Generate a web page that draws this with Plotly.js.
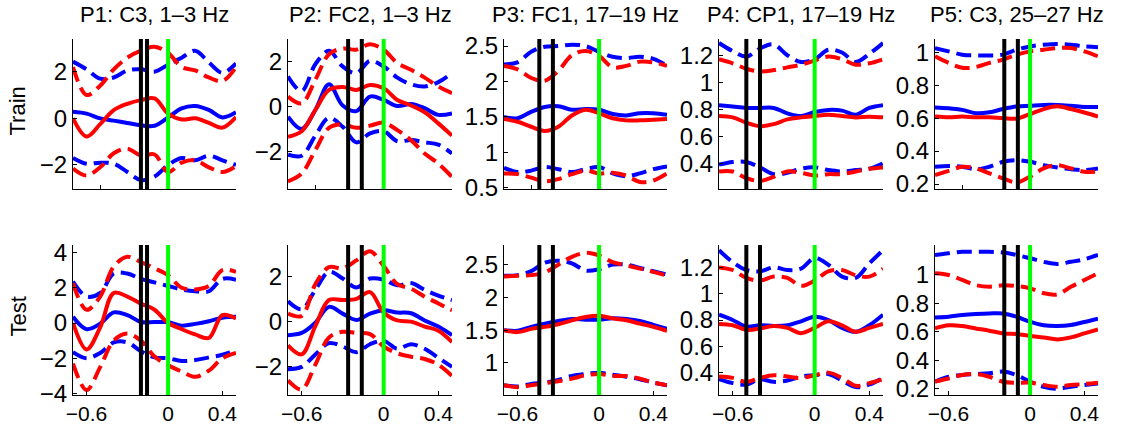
<!DOCTYPE html>
<html><head><meta charset="utf-8">
<script src="https://cdn.plot.ly/plotly-3.0.1.min.js"></script>
<style>html,body{margin:0;padding:0;background:#fff}#chart{width:1130px;height:432px}</style>
</head><body><div id="chart"></div>
<script>
// ---------- data ----------
const timeAxis = [-0.7,-0.6,-0.5,-0.4,-0.3,-0.2,-0.1,0,0.1,0.2,0.3,0.4,0.5];
const panelTitles = ['P1: C3, 1\u20133 Hz','P2: FC2, 1\u20133 Hz','P3: FC1, 17\u201319 Hz','P4: CP1, 17\u201319 Hz','P5: C3, 25\u201327 Hz'];
const rowLabels = ['Train','Test'];
const markerLines = [[-0.2,-0.155],[-0.26,-0.16],[-0.44,-0.34],[-0.5,-0.4],[-0.19,-0.09]];
const onsetLine = 0;
const trainRanges = [[-3.03,3.4],[-3.69,3.03],[0.48,2.6],[0.21,1.32],[0.17,1.08]];
const testRanges = [[-4.08,4.42],[-3.24,3.38],[0.51,2.8],[0.23,1.37],[0.156,1.208]];
const trainYTicks = [[-2,0,2],[-2,0,2],[0.5,1,1.5,2,2.5],[0.4,0.6,0.8,1,1.2],[0.2,0.4,0.6,0.8,1]];
const testYTicks = [[-4,-2,0,2,4],[-2,0,2],[1,1.5,2,2.5],[0.4,0.6,0.8,1,1.2],[0.2,0.4,0.6,0.8,1]];
const trainXTicks = [-0.5,0,0.5];
const testXTicks = [-0.6,0,0.4];

// P1
const p1TrainBlue   = [0.28,0.2,0.0,-0.1,-0.2,-0.3,-0.32,0.04,0.43,0.53,0.36,0.04,0.26];
const p1TrainRed    = [0.0,-0.78,-0.25,0.35,0.62,0.78,0.85,0.2,-0.05,0.0,-0.2,-0.4,0.05];
const p1TrainBlueHi = [2.43,2.1,1.7,1.75,2.05,2.1,2.0,2.3,2.6,2.9,2.4,1.95,2.35];
const p1TrainRedHi  = [2.2,1.0,1.4,2.1,2.6,2.9,3.07,2.8,2.2,2.05,1.75,1.6,2.2];
const p1TrainBlueLo = [-1.7,-1.95,-1.9,-1.95,-2.3,-2.65,-2.5,-2.0,-1.7,-1.8,-1.6,-1.8,-2.0];
const p1TrainRedLo  = [-2.15,-2.45,-2.1,-1.5,-1.3,-1.6,-1.55,-2.3,-1.9,-1.8,-2.1,-2.3,-2.05];
const p1TestBlue    = [0.35,-0.35,-0.04,0.6,0.45,0.06,0.05,0.05,-0.15,-0.05,0.1,0.3,0.35];
const p1TestRed     = [0.0,-1.5,-0.25,1.7,1.5,1.1,0.75,0.0,-0.35,-0.65,-0.85,0.45,0.25];
const p1TestBlueHi  = [2.35,1.5,1.7,2.8,2.8,2.5,2.3,2.1,1.9,1.8,1.8,2.5,2.45];
const p1TestRedHi   = [2.25,0.75,1.5,3.2,3.75,3.45,3.1,2.7,2.0,1.9,2.1,3.0,2.9];
const p1TestBlueLo  = [-1.65,-2.0,-1.7,-1.1,-1.1,-1.6,-1.95,-2.0,-2.15,-2.1,-1.95,-1.8,-1.55];
const p1TestRedLo   = [-2.3,-3.8,-2.5,-1.0,-0.6,-1.0,-1.9,-2.4,-2.75,-3.05,-2.7,-2.0,-1.7];
// P2
const p2TrainBlue   = [-0.45,-1.0,-0.15,1.0,0.05,-0.2,0.45,0.3,0.03,0.12,-0.07,-0.37,-0.3];
const p2TrainRed    = [-1.35,-1.1,-0.15,0.75,0.88,0.75,0.97,0.82,0.3,0.05,-0.25,-0.75,-1.3];
const p2TrainBlueHi = [1.35,0.7,1.9,2.5,1.8,1.5,2.05,1.8,1.3,1.0,0.9,1.1,1.5];
const p2TrainRedHi  = [0.45,0.15,1.2,2.35,2.6,2.55,2.8,2.55,1.95,1.65,1.3,0.9,0.6];
const p2TrainBlueLo = [-2.15,-2.2,-1.3,-0.5,-0.9,-1.6,-1.2,-1.1,-1.55,-1.5,-1.6,-1.7,-2.1];
const p2TrainRedLo  = [-3.35,-3.0,-1.95,-0.95,-0.8,-0.95,-0.85,-0.72,-1.05,-1.5,-2.1,-2.55,-3.15];
const p2TestBlue    = [-0.6,-0.5,-0.05,0.65,0.35,0.07,0.35,0.5,0.4,0.37,0.05,-0.22,-0.6];
const p2TestRed     = [-1.05,-1.45,-0.2,0.95,0.95,1.0,1.3,0.4,0.05,0.0,-0.22,-0.4,-0.9];
const p2TestBlueHi  = [0.9,0.55,1.4,2.2,1.9,1.5,1.9,1.85,1.6,1.7,1.4,1.15,0.95];
const p2TestRedHi   = [0.35,0.25,1.65,2.4,2.35,2.7,3.1,2.45,1.65,1.45,1.1,0.8,0.5];
const p2TestBlueLo  = [-2.1,-2.0,-1.45,-0.95,-1.1,-1.35,-1.0,-0.85,-1.2,-1.0,-1.2,-1.6,-2.0];
const p2TestRedLo   = [-2.6,-3.0,-1.9,-0.7,-0.45,-0.5,-0.55,-1.1,-1.4,-1.55,-1.65,-1.9,-2.4];
// P3
const p3TrainBlue   = [1.5,1.48,1.57,1.64,1.65,1.6,1.61,1.6,1.54,1.52,1.55,1.55,1.53];
const p3TrainRed    = [1.47,1.43,1.36,1.3,1.36,1.52,1.6,1.55,1.48,1.45,1.45,1.46,1.47];
const p3TrainBlueHi = [2.24,2.27,2.42,2.49,2.5,2.52,2.5,2.42,2.35,2.33,2.35,2.32,2.22];
const p3TrainRedHi  = [2.22,2.17,2.05,2.01,2.15,2.37,2.43,2.36,2.2,2.22,2.28,2.27,2.22];
const p3TrainBlueLo = [0.78,0.72,0.74,0.79,0.76,0.72,0.76,0.79,0.7,0.66,0.7,0.76,0.8];
const p3TrainRedLo  = [0.7,0.69,0.64,0.59,0.62,0.69,0.74,0.7,0.71,0.67,0.58,0.6,0.7];
const p3TestBlue    = [1.5,1.49,1.55,1.6,1.64,1.67,1.66,1.66,1.68,1.67,1.64,1.58,1.52];
const p3TestRed     = [1.5,1.47,1.52,1.55,1.59,1.65,1.7,1.72,1.68,1.65,1.6,1.55,1.49];
const p3TestBlueHi  = [2.33,2.34,2.4,2.53,2.56,2.52,2.41,2.43,2.5,2.5,2.45,2.4,2.35];
const p3TestRedHi   = [2.32,2.33,2.34,2.38,2.5,2.62,2.68,2.64,2.54,2.49,2.44,2.39,2.33];
const p3TestBlueLo  = [0.66,0.64,0.68,0.7,0.74,0.8,0.83,0.85,0.82,0.79,0.75,0.7,0.66];
const p3TestRedLo   = [0.66,0.63,0.66,0.69,0.72,0.76,0.81,0.83,0.8,0.8,0.76,0.7,0.66];
// P4
const p4TrainBlue   = [0.83,0.82,0.81,0.81,0.81,0.77,0.75,0.78,0.795,0.79,0.76,0.81,0.83];
const p4TrainRed    = [0.75,0.74,0.7,0.675,0.69,0.725,0.74,0.75,0.76,0.75,0.74,0.745,0.74];
const p4TrainBlueHi = [1.29,1.23,1.19,1.25,1.28,1.2,1.15,1.17,1.24,1.22,1.15,1.21,1.29];
const p4TrainRedHi  = [1.17,1.14,1.1,1.08,1.09,1.11,1.13,1.16,1.19,1.17,1.13,1.14,1.17];
const p4TrainBlueLo = [0.39,0.41,0.41,0.37,0.32,0.33,0.36,0.37,0.35,0.34,0.35,0.36,0.4];
const p4TrainRedLo  = [0.34,0.34,0.29,0.27,0.3,0.34,0.33,0.31,0.32,0.32,0.34,0.36,0.37];
const p4TestBlue    = [0.84,0.8,0.75,0.76,0.755,0.76,0.79,0.825,0.8,0.74,0.71,0.76,0.84];
const p4TestRed     = [0.77,0.76,0.725,0.735,0.755,0.74,0.7,0.74,0.79,0.76,0.71,0.74,0.77];
const p4TestBlueHi  = [1.33,1.24,1.18,1.17,1.2,1.18,1.19,1.27,1.22,1.13,1.12,1.23,1.33];
const p4TestRedHi   = [1.2,1.18,1.12,1.1,1.13,1.12,1.06,1.1,1.17,1.18,1.14,1.13,1.19];
const p4TestBlueLo  = [0.35,0.32,0.31,0.35,0.33,0.34,0.37,0.38,0.39,0.34,0.29,0.31,0.36];
const p4TestRedLo   = [0.37,0.36,0.33,0.36,0.38,0.37,0.36,0.38,0.4,0.36,0.3,0.32,0.35];
// P5
const p5TrainBlue   = [0.665,0.66,0.65,0.63,0.635,0.655,0.67,0.675,0.68,0.68,0.675,0.668,0.667];
const p5TrainRed    = [0.61,0.605,0.61,0.605,0.605,0.6,0.597,0.625,0.655,0.672,0.655,0.634,0.61];
const p5TrainBlueHi = [1.025,1.005,0.985,0.98,0.98,0.985,1.015,1.035,1.045,1.05,1.045,1.035,1.03];
const p5TrainRedHi  = [0.975,0.935,0.905,0.91,0.935,0.955,0.985,1.005,1.015,1.025,1.025,1.005,0.975];
const p5TrainBlueLo = [0.305,0.31,0.305,0.29,0.305,0.335,0.345,0.335,0.315,0.3,0.29,0.285,0.295];
const p5TrainRedLo  = [0.255,0.28,0.305,0.295,0.265,0.235,0.21,0.245,0.295,0.315,0.295,0.275,0.275];
const p5TestBlue    = [0.7,0.705,0.717,0.724,0.728,0.728,0.705,0.67,0.645,0.64,0.647,0.668,0.692];
const p5TestRed     = [0.623,0.645,0.64,0.623,0.607,0.588,0.584,0.57,0.56,0.546,0.56,0.588,0.616];
const p5TestBlueHi  = [1.138,1.15,1.16,1.16,1.16,1.155,1.138,1.115,1.09,1.075,1.09,1.108,1.138];
const p5TestRedHi   = [1.01,0.998,0.963,0.927,0.916,0.925,0.92,0.904,0.87,0.862,0.915,0.963,1.01];
const p5TestBlueLo  = [0.25,0.284,0.296,0.303,0.308,0.32,0.296,0.25,0.214,0.2,0.214,0.226,0.237];
const p5TestRedLo   = [0.25,0.272,0.296,0.303,0.284,0.249,0.242,0.242,0.226,0.214,0.226,0.233,0.242];

// ---------- build ----------
const trainSets = [
  [p1TrainBlueHi,p1TrainBlue,p1TrainBlueLo,p1TrainRedHi,p1TrainRed,p1TrainRedLo],
  [p2TrainBlueHi,p2TrainBlue,p2TrainBlueLo,p2TrainRedHi,p2TrainRed,p2TrainRedLo],
  [p3TrainBlueHi,p3TrainBlue,p3TrainBlueLo,p3TrainRedHi,p3TrainRed,p3TrainRedLo],
  [p4TrainBlueHi,p4TrainBlue,p4TrainBlueLo,p4TrainRedHi,p4TrainRed,p4TrainRedLo],
  [p5TrainBlueHi,p5TrainBlue,p5TrainBlueLo,p5TrainRedHi,p5TrainRed,p5TrainRedLo]];
const testSets = [
  [p1TestBlueHi,p1TestBlue,p1TestBlueLo,p1TestRedHi,p1TestRed,p1TestRedLo],
  [p2TestBlueHi,p2TestBlue,p2TestBlueLo,p2TestRedHi,p2TestRed,p2TestRedLo],
  [p3TestBlueHi,p3TestBlue,p3TestBlueLo,p3TestRedHi,p3TestRed,p3TestRedLo],
  [p4TestBlueHi,p4TestBlue,p4TestBlueLo,p4TestRedHi,p4TestRed,p4TestRedLo],
  [p5TestBlueHi,p5TestBlue,p5TestBlueLo,p5TestRedHi,p5TestRed,p5TestRedLo]];

const W = 1130, H = 432;
const colLeft = [73,288,504,719,935], colRight = [236,452,667,883,1098];
const rowTop = [39,245], rowBottom = [189,395];
const rowLabelCenter = [111,317];
const FONT = 'Liberation Sans, Arial, sans-serif';
const DASH = '15px,7px';
const styles = [
  {color:'#0000ff', dash:DASH},{color:'#0000ff', dash:'solid'},{color:'#0000ff', dash:DASH},
  {color:'#ff0000', dash:DASH},{color:'#ff0000', dash:'solid'},{color:'#ff0000', dash:DASH}];

const traces = [], shapes = [], annotations = [];
const layout = {width:W, height:H, margin:{l:0,r:0,t:0,b:0}, showlegend:false,
  paper_bgcolor:'#fff', plot_bgcolor:'#fff', font:{family:FONT, size:20, color:'#000'}};

for (let r = 0; r < 2; r++) {
  for (let c = 0; c < 5; c++) {
    const n = r*5 + c + 1;
    const xa = 'x' + n, ya = 'y' + n;
    const sets = r === 0 ? trainSets[c] : testSets[c];
    sets.forEach((ys, k) => {
      traces.push({x: timeAxis, y: ys, xaxis: xa, yaxis: ya, type:'scatter', mode:'lines',
        line:{color:styles[k].color, dash:styles[k].dash, width:4, shape:'spline', smoothing:1}, hoverinfo:'skip'});
    });
    layout['xaxis' + n] = {domain:[colLeft[c]/W, colRight[c]/W], anchor: ya,
      range:[-0.7,0.5], showgrid:false, zeroline:false, showline:true, linecolor:'#000', linewidth:1,
      ticks:'inside', ticklen:4, tickcolor:'#000',
      tickvals: r === 0 ? trainXTicks : testXTicks, showticklabels: r === 1,
      tickfont:{family:FONT, size:21}};
    layout['yaxis' + n] = {domain:[1 - rowBottom[r]/H, 1 - rowTop[r]/H], anchor: xa,
      range: r === 0 ? trainRanges[c] : testRanges[c], showgrid:false, zeroline:false,
      showline:true, linecolor:'#000', linewidth:1, ticks:'inside', ticklen:4, tickcolor:'#000',
      tickvals: r === 0 ? trainYTicks[c] : testYTicks[c], tickfont:{family:FONT, size:24}};
    markerLines[c].forEach(v => shapes.push({type:'line', xref:xa, yref:ya+' domain', x0:v, x1:v, y0:0, y1:1,
      line:{color:'#000', width:4}, layer:'above'}));
    shapes.push({type:'line', xref:xa, yref:ya+' domain', x0:onsetLine, x1:onsetLine, y0:0, y1:1,
      line:{color:'#00ff00', width:4}, layer:'above'});
    if (r === 0) {
      annotations.push({text:panelTitles[c], xref:'paper', yref:'paper', x:(colLeft[c]+colRight[c])/2/W,
        y:1 - 14.5/H, xanchor:'center', yanchor:'middle', showarrow:false, font:{family:FONT, size:22, color:'#000'}});
    }
  }
  annotations.push({text:rowLabels[r], xref:'paper', yref:'paper', x:17.5/W,
    y:1 - rowLabelCenter[r]/H, xanchor:'center', yanchor:'middle', textangle:-90,
    showarrow:false, font:{family:FONT, size:22, color:'#000'}});
}
layout.shapes = shapes;
layout.annotations = annotations;
Plotly.newPlot('chart', traces, layout, {staticPlot:true, displayModeBar:false});
</script></body></html>
